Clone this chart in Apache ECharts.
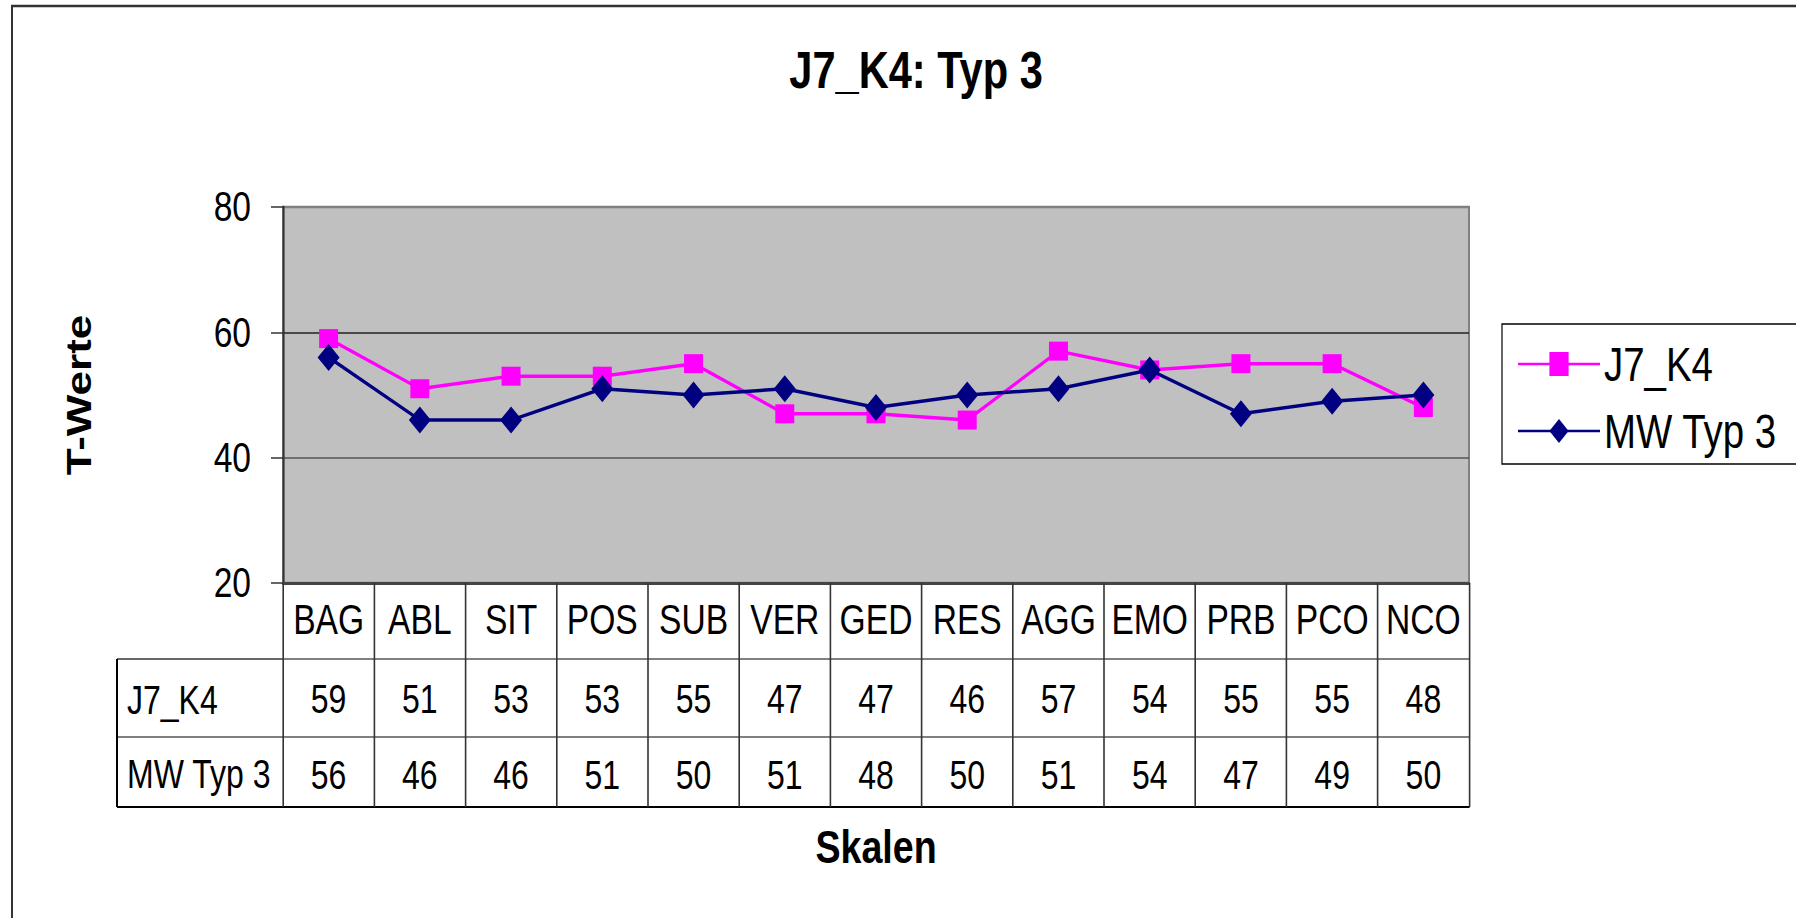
<!DOCTYPE html>
<html><head><meta charset="utf-8">
<script src="https://cdn.jsdelivr.net/npm/echarts@6/dist/echarts.min.js"></script>
<style>
html,body{margin:0;padding:0;background:#fff;overflow:hidden}
#wrap{width:1796px;height:918px;overflow:hidden;position:relative}
#c{position:absolute;left:0;top:0;height:918px;transform-origin:0 0}
</style>
</head><body><div id="wrap"><div id="c"></div></div>
<script>
// ---- data ----
const categories = ['BAG','ABL','SIT','POS','SUB','VER','GED','RES','AGG','EMO','PRB','PCO','NCO'];
const j7k4 = [59,51,53,53,55,47,47,46,57,54,55,55,48];
const mwTyp3 = [56,46,46,51,50,51,48,50,51,54,47,49,50];
const seriesNames = ['J7_K4','MW Typ 3'];
const yMin = 20, yMax = 80, yStep = 20;
const titleText = 'J7_K4: Typ 3';
const yName = 'T-Werte';
const xName = 'Skalen';

// ---- layout (the reference uses a condensed face; emulate it by a horizontal squeeze) ----
const SX = 0.8;                       // horizontal condensation
const X = v => v / SX;                // screen px -> chart px (horizontal)
const FONT = "'Liberation Sans',Arial,sans-serif";
const W = 1796, H = 918;
const G = {left:283, top:207, right:1796-1469, bottom:918-583};
const axisY = H - G.bottom;
const ROW = [76, 78, 70];
const HEAD_W = 166;
const y1 = axisY + ROW[0], y2 = y1 + ROW[1], y3 = y2 + ROW[2];
const tl = G.left - HEAD_W;

const el = document.getElementById('c');
el.style.width = X(W) + 'px';
el.style.transform = 'scaleX(' + SX + ')';
const chart = echarts.init(el, null, {renderer:'svg'});
const lineSeg = (x1,ya,x2,yb,color,w)=>({type:'line',shape:{x1:X(x1),y1:ya,x2:X(x2),y2:yb},style:{stroke:color,lineWidth:w},silent:true});

chart.setOption({
  animation:false,
  backgroundColor:'#fff',
  title:{text:titleText,left:X(912),textAlign:'center',top:39,
    textStyle:{fontFamily:FONT,fontSize:52,fontWeight:'bold',color:'#000'}},
  legend:{data:seriesNames,orient:'vertical',left:X(1502),top:324,
    padding:[16,X(400),9,X(15)],itemWidth:X(82),itemHeight:30,itemGap:19,
    borderColor:'#000',borderWidth:1.5,
    lineStyle:{width:2.5},
    textStyle:{fontFamily:FONT,fontSize:48,color:'#000'}},
  grid:{left:X(G.left),top:G.top,right:X(G.right),bottom:G.bottom,show:true,
    backgroundColor:'#C0C0C0',borderColor:'#808080',borderWidth:2.5},
  xAxis:[
    {type:'category',data:categories,position:'bottom',
      axisLine:{lineStyle:{color:'#444',width:3}},
      axisTick:{show:true,length:ROW[0],lineStyle:{color:'#333',width:2}},
      axisLabel:{interval:0,margin:16,fontFamily:FONT,fontSize:42,color:'#000'},
      splitLine:{show:false}},
    {type:'category',data:categories,position:'bottom',offset:ROW[0],
      axisLine:{lineStyle:{color:'#808080',width:2}},
      axisTick:{show:true,length:ROW[1],lineStyle:{color:'#333',width:2}},
      axisLabel:{interval:0,margin:20,fontFamily:FONT,fontSize:40,color:'#000',
        formatter:(v,i)=>String(j7k4[i])},
      splitLine:{show:false}},
    {type:'category',data:categories,position:'bottom',offset:ROW[0]+ROW[1],
      axisLine:{lineStyle:{color:'#555',width:1.5}},
      axisTick:{show:true,length:ROW[2],lineStyle:{color:'#333',width:2}},
      axisLabel:{interval:0,margin:18,fontFamily:FONT,fontSize:40,color:'#000',
        formatter:(v,i)=>String(mwTyp3[i])},
      splitLine:{show:false}},
    {type:'category',data:categories,position:'bottom',offset:ROW[0]+ROW[1]+ROW[2],
      axisLine:{lineStyle:{color:'#000',width:2}},
      axisTick:{show:false},axisLabel:{show:false},splitLine:{show:false},
      name:xName,nameLocation:'middle',nameGap:16,
      nameTextStyle:{fontFamily:FONT,fontSize:47,fontWeight:'bold',color:'#000'}}
  ],
  yAxis:{type:'value',min:yMin,max:yMax,interval:yStep,
    axisLine:{show:true,lineStyle:{color:'#333',width:2.5}},
    axisTick:{show:true,length:X(12),lineStyle:{color:'#333',width:1.5}},
    axisLabel:{margin:X(32),fontFamily:FONT,fontSize:42,color:'#000'},
    splitLine:{show:true,lineStyle:{color:['#444','#555','#222','#808080'],width:1.5}},
    name:yName,nameLocation:'middle',nameGap:234,
    nameTextStyle:{fontFamily:FONT,fontSize:44,fontWeight:'bold',color:'#000'}},
  series:[
    {name:seriesNames[0],type:'line',data:j7k4,symbol:'rect',symbolSize:[X(19),19],
      itemStyle:{color:'#FF00FF'},lineStyle:{color:'#FF00FF',width:3.5},z:3},
    {name:seriesNames[1],type:'line',data:mwTyp3,symbol:'diamond',symbolSize:[X(22),27],
      itemStyle:{color:'#000080'},lineStyle:{color:'#000080',width:3.5},z:4}
  ],
  graphic:[
    {type:'rect',shape:{x:X(12),y:6,width:X(1900),height:1000},style:{fill:null,stroke:'#333',lineWidth:2.5},silent:true,z:-1},
    lineSeg(tl,y1,G.left,y1,'#333',1.5),
    lineSeg(tl,y2,G.left,y2,'#555',1.5),
    lineSeg(tl,y3,G.left,y3,'#000',2),
    lineSeg(tl,y1,tl,y3,'#000',2.5),
    {type:'text',x:X(tl+10),y:y1+ROW[1]/2+2,style:{text:seriesNames[0],font:'40px '+FONT,fill:'#000',verticalAlign:'middle',align:'left'}},
    {type:'text',x:X(tl+10),y:y2+ROW[2]/2+2,style:{text:seriesNames[1],font:'40px '+FONT,fill:'#000',verticalAlign:'middle',align:'left'}}
  ]
});
</script></body></html>
